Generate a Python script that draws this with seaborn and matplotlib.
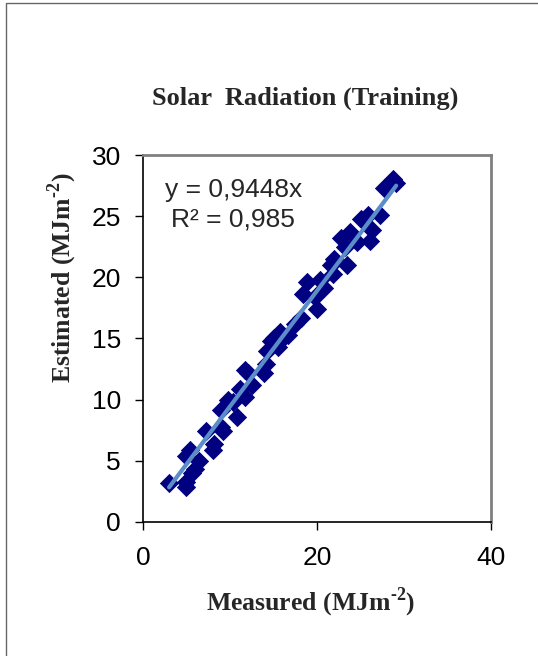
import numpy as np
import pandas as pd
import matplotlib
matplotlib.use('Agg')
import matplotlib.pyplot as plt
from matplotlib.patches import Rectangle
import seaborn as sns

# measured vs estimated (MJ m-2)
measured = [3.0, 5.0, 4.9, 5.4, 5.0, 6.0, 5.6, 6.4, 7.2, 8.0, 8.2, 9.0, 9.2, 9.0,
            9.8, 10.8, 10.4, 11.2, 11.7, 12.5, 11.7, 12.1, 13.9, 14.1, 14.3, 14.7,
            15.1, 15.7, 15.5, 16.1, 16.7, 17.5, 18.2, 18.4, 18.8, 20.0, 19.8, 20.4,
            20.8, 21.6, 21.9, 21.8, 22.8, 23.4, 23.8, 23.2, 24.6, 25.1, 25.9, 26.1,
            26.3, 27.3, 27.7, 28.7, 29.1]
estimated = [3.2, 2.9, 3.3, 5.9, 5.4, 4.35, 4.0, 5.0, 7.4, 5.9, 6.4, 7.8, 7.4, 9.15,
             10.0, 8.6, 9.8, 10.9, 10.2, 11.2, 12.4, 12.2, 12.2, 12.9, 14.0, 14.8,
             15.0, 15.5, 14.3, 15.0, 15.3, 16.2, 16.7, 18.6, 19.6, 17.4, 18.4, 19.8,
             19.1, 21.0, 21.5, 20.3, 23.2, 21.0, 23.7, 22.5, 22.9, 24.8, 25.1, 23.0,
             23.9, 25.1, 27.3, 28.0, 27.7]
slope = 0.9448
r2 = 0.985
x_ticks = [0, 20, 40]
y_ticks = [0, 5, 10, 15, 20, 25, 30]

df = pd.DataFrame({'Measured': measured, 'Estimated': estimated})
xs = np.array([min(measured), max(measured)])
trend = pd.DataFrame({'x': xs, 'y': slope * xs})

sns.set_style('white')
plt.rcParams['font.family'] = ['Liberation Sans', 'DejaVu Sans']
plt.rcParams['mathtext.fontset'] = 'custom'
plt.rcParams['mathtext.rm'] = 'Liberation Serif:bold'
plt.rcParams['mathtext.bf'] = 'Liberation Serif:bold'

fig = plt.figure(figsize=(5.38, 6.56), dpi=100)
ax = fig.add_axes([0.2658, 0.2043, 0.6468, 0.5594])

sns.scatterplot(data=df, x='Measured', y='Estimated', marker='D', s=85,
                color='#000080', edgecolor='#000080', linewidth=0.6, ax=ax, zorder=3)
sns.lineplot(data=trend, x='x', y='y', color='#5b8ec9', linewidth=3, ax=ax, zorder=4)

ax.set_xlim(0, 40)
ax.set_ylim(0, 30)
ax.set_xticks(x_ticks)
ax.set_yticks(y_ticks)
ax.tick_params(axis='both', direction='out', length=6, width=1, colors='black',
               labelsize=19, left=True, bottom=True)
ax.tick_params(axis='y', pad=10)
ax.tick_params(axis='x', pad=11)

for side in ['left', 'bottom']:
    ax.spines[side].set_color('black')
    ax.spines[side].set_linewidth(1.2)
for side in ['top', 'right']:
    ax.spines[side].set_color('#808080')
    ax.spines[side].set_linewidth(2)
    ax.spines[side].set_visible(True)

ax.set_xlabel(r'Measured (MJm$^{\text{-2}}$)', fontsize=18.5, fontweight='bold',
              family='Liberation Serif', va='center')
ax.xaxis.set_label_coords(0.483, -0.22)
ax.set_ylabel(r'Estimated (MJm$^{\text{-2}}$)', fontsize=18.5, fontweight='bold',
              family='Liberation Serif', va='center')
ax.yaxis.set_label_coords(-0.233, 0.665)

ax.text(0.259, 0.905, f'y = {slope:.4f}x'.replace('.', ','), transform=ax.transAxes,
        ha='center', va='center', fontsize=19)
ax.text(0.259, 0.823, f'R² = {r2:.3f}'.replace('.', ','), transform=ax.transAxes,
        ha='center', va='center', fontsize=19)

fig.text(0.568, 0.85, 'Solar  Radiation (Training)', ha='center', va='center',
         fontsize=19, fontweight='bold', family='Liberation Serif')

fig.patches.append(Rectangle((6 / 538, -0.01), 1.1, 1 - 3 / 656 + 0.01,
                             transform=fig.transFigure, fill=False,
                             edgecolor='#666666', linewidth=1))

fig.savefig('out.png', dpi=100)
